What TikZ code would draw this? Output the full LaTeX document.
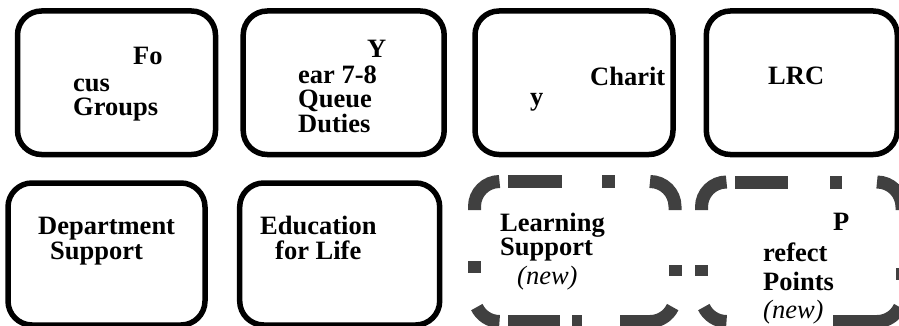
\documentclass[tikz,border=0pt]{standalone}
\usepackage{fontspec}
\setmainfont{Liberation Serif}
\definecolor{dashgray}{HTML}{404040}
\begin{document}
\begin{tikzpicture}[x=1pt,y=-1pt,
  sbox/.style={draw=black,line width=5.5pt,rounded corners=24pt,inner sep=0pt},
  dpiece/.style={draw=dashgray,line width=13pt},
  lbl/.style={anchor=base west,inner sep=0pt,font=\fontsize{26.5}{26.5}\selectfont\bfseries},
  ilbl/.style={anchor=base west,inner sep=0pt,font=\fontsize{26.5}{26.5}\selectfont\itshape}]
\useasboundingbox (0,0) rectangle (899,326);
\clip (0,0) rectangle (899,326);
% top row solid boxes
\node[sbox,minimum width=198pt,minimum height=143.5pt] (b1) at (116.5,82.75) {};
\node[sbox,minimum width=201pt,minimum height=143.5pt] (b2) at (343.7,82.75) {};
\node[sbox,minimum width=198pt,minimum height=143.5pt] (b3) at (574,82.75) {};
\node[sbox,minimum width=191pt,minimum height=143.5pt] (b4) at (801.8,82.75) {};
% bottom row solid boxes
\node[sbox,minimum width=197pt,minimum height=142pt] (b5) at (106.5,254) {};
\node[sbox,minimum width=200pt,minimum height=142pt] (b6) at (339.7,254) {};
% dashed box 7 (L=474.5 R=675 T=181.5 B=321.5)
\draw[dpiece] (474.5,210) -- (474.5,206.5) arc[start angle=180,end angle=270,radius=25];
\draw[dpiece] (508,181.5) -- (562,181.5);
\draw[dpiece] (602,181.5) -- (615,181.5);
\draw[dpiece] (650,181.5) arc[start angle=270,end angle=360,radius=25] -- (675,210);
\draw[dpiece] (675,265) -- (675,276);
\draw[dpiece] (672.66,307.07) arc[start angle=25,end angle=90,radius=25] -- (620,321.5);
\draw[dpiece] (572,321.5) -- (582,321.5);
\draw[dpiece] (508,321.5) -- (560,321.5);
\draw[dpiece] (499.5,321.5) arc[start angle=90,end angle=155,radius=25];
\draw[dpiece] (474.5,261) -- (474.5,273);
% dashed box 8 (L=701.5 R=902 T=182 B=321.5)
\draw[dpiece] (701.5,210) -- (701.5,207) arc[start angle=180,end angle=270,radius=25];
\draw[dpiece] (735,182) -- (788,182);
\draw[dpiece] (830,182) -- (842,182);
\draw[dpiece] (877,182) arc[start angle=270,end angle=360,radius=25] -- (902,210);
\draw[dpiece] (902,268) -- (902,280);
\draw[dpiece] (899.66,307.07) arc[start angle=25,end angle=90,radius=25] -- (833,321.5);
\draw[dpiece] (726.5,321.5) arc[start angle=90,end angle=155,radius=25];
\draw[dpiece] (701.5,265) -- (701.5,276);
% texts
\node[lbl] (t1a) at (133,65) {Fo};
\node[lbl] (t1b) at (73,91.5) {cus};
\node[lbl] (t1c) at (73,116) {Groups};
\node[lbl] (t2a) at (367,58) {Y};
\node[lbl] (t2b) at (298,84) {ear 7-8};
\node[lbl] (t2c) at (298,108) {Queue};
\node[lbl] (t2d) at (298,132) {Duties};
\node[lbl] (t3a) at (590,86) {Charit};
\node[lbl] (t3b) at (530,106) {y};
\node[lbl] (t4a) at (768,85) {LRC};
\node[lbl] (t5a) at (38,234) {Department};
\node[lbl] (t5b) at (50,259) {Support};
\node[lbl] (t6a) at (260,234) {Education};
\node[lbl] (t6b) at (275,259) {for Life};
\node[lbl] (t7a) at (500,231) {Learning};
\node[lbl] (t7b) at (500,255) {Support};
\node[ilbl] (t7c) at (517,284) {(new)};
\node[lbl] (t8a) at (833,230) {P};
\node[lbl] (t8b) at (763,261) {refect};
\node[lbl] (t8c) at (763,290) {Points};
\node[ilbl] (t8d) at (763,318) {(new)};
\end{tikzpicture}
\end{document}
